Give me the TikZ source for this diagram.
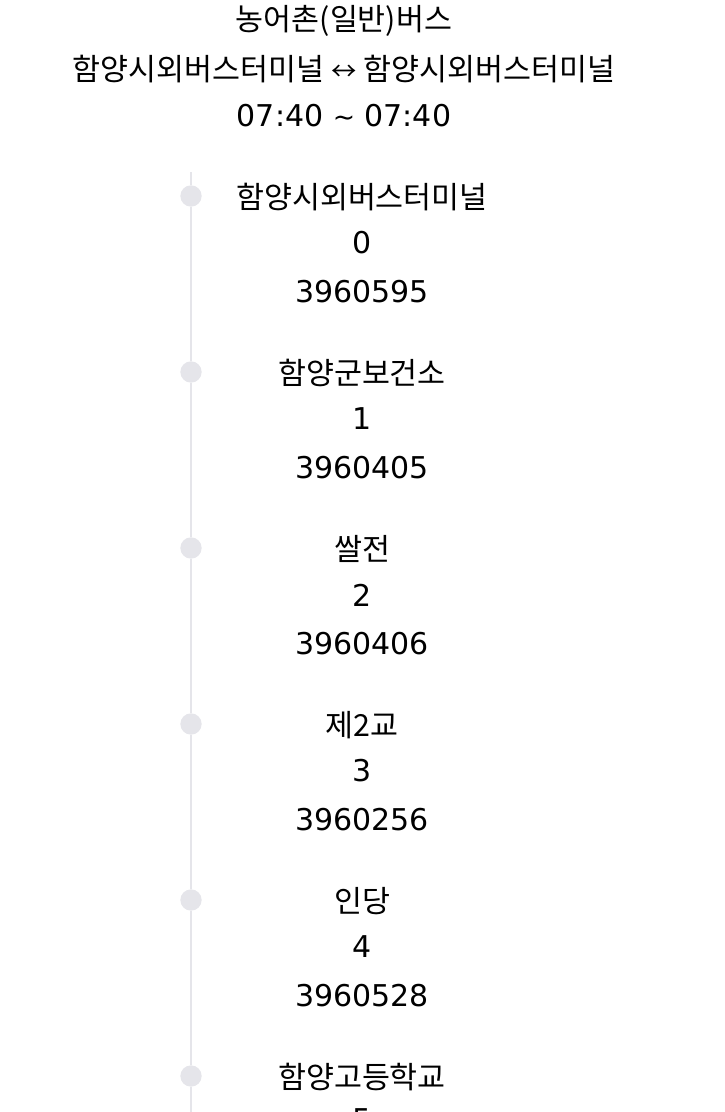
\documentclass[tikz,border=0pt]{standalone}
\usepackage{fontspec}
\setmainfont{DejaVu Sans}
\newfontfamily\kr{Noto Sans CJK KR}
\usetikzlibrary{calc}
\definecolor{trackgray}{HTML}{E5E5EA}
\tikzstyle{stop} = [draw=none, fill=trackgray, shape=circle, minimum width=16pt, inner sep=0pt]
\tikzstyle{label} = [anchor=center, inner sep=0pt, font=\fontsize{22.5pt}{27pt}\selectfont]
\tikzstyle{klabel} = [label, font=\kr\fontsize{22.8pt}{27pt}\selectfont]
\tikzstyle{track} = [draw=trackgray, line width=1.6pt]

\begin{document}
\begin{tikzpicture}[x=0.75pt,y=-0.75pt]
    \useasboundingbox (0,0) rectangle (724,1112);
    \clip (0,0) rectangle (724,1112);
    % header
    \node[klabel] (title) at (344,21) {농어촌(일반)버스};
    \node[klabel] (route) at (344,69) {함양시외버스터미널 {\fontsize{19pt}{27pt}\selectfont ↔} 함양시외버스터미널};
    \node[label] (time) at (344,116) {07:40 {\fontsize{20pt}{27pt}\selectfont\textasciitilde{}} 07:40};
    % timeline
    \coordinate (top) at (191,172);
    \coordinate (bot) at (191,1112);
    \draw (191,196) node[stop] (d0) {};
    \draw (191,372) node[stop] (d1) {};
    \draw (191,548) node[stop] (d2) {};
    \draw (191,724) node[stop] (d3) {};
    \draw (191,900) node[stop] (d4) {};
    \draw (191,1076) node[stop] (d5) {};
    \draw[track] (top) -- (d0.north);
    \draw[track] (d0.south) -- (d1.north);
    \draw[track] (d1.south) -- (d2.north);
    \draw[track] (d2.south) -- (d3.north);
    \draw[track] (d3.south) -- (d4.north);
    \draw[track] (d4.south) -- (d5.north);
    \draw[track] (d5.south) -- (bot);
    % stops
    \node[klabel] (n0) at (362,197) {함양시외버스터미널};
    \node[label] (s0) at (362,243) {0};
    \node[label] (i0) at (362,292) {3960595};
    \node[klabel] (n1) at (362,373) {함양군보건소};
    \node[label] (s1) at (362,419) {1};
    \node[label] (i1) at (362,468) {3960405};
    \node[klabel] (n2) at (362,549) {쌀전};
    \node[label] (s2) at (362,595) {2};
    \node[label] (i2) at (362,644) {3960406};
    \node[klabel] (n3) at (362,725) {제2교};
    \node[label] (s3) at (362,771) {3};
    \node[label] (i3) at (362,820) {3960256};
    \node[klabel] (n4) at (362,901) {인당};
    \node[label] (s4) at (362,947) {4};
    \node[label] (i4) at (362,996) {3960528};
    \node[klabel] (n5) at (362,1077) {함양고등학교};
    \node[label] (s5) at (362,1120) {5};
\end{tikzpicture}
\end{document}
